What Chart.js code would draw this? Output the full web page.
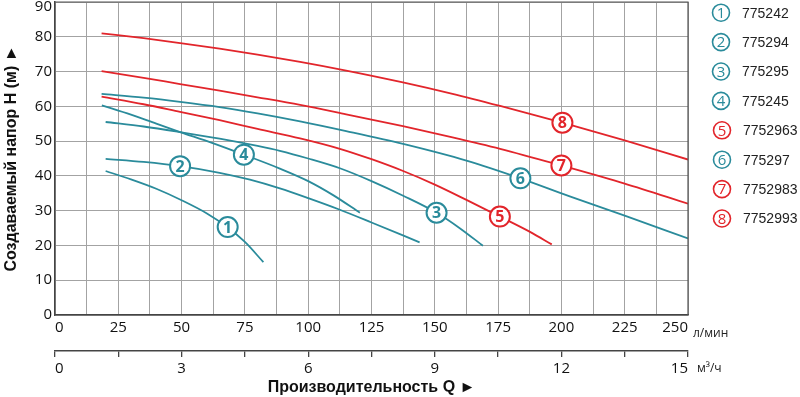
<!DOCTYPE html>
<html>
<head>
<meta charset="utf-8">
<script src="https://cdn.jsdelivr.net/npm/chart.js@4.4.1/dist/chart.umd.min.js"></script>
<style>
  html, body { margin: 0; padding: 0; background: #fff; }
  #wrap { width: 800px; height: 397px; }
</style>
</head>
<body>
<div id="wrap"><canvas id="grafico"></canvas></div>
<script>
// Datos: Q en л/мин, H en м
const pumpNames = ['775242', '775294', '775295', '775245', '7752963', '775297', '7752983', '7752993'];
const curve1 = [[20,41.4],[30,39],[40,36.3],[50,33],[60,29.2],[68,25.3],[75,21],[82.3,15.2]];
const curve2 = [[20,44.9],[35,44],[49.4,42.8],[65,40.9],[77,38.9],[88.8,36.4],[100,33.6],[112,30.4],[125,26.6],[144,20.9]];
const curve3 = [[20,55.5],[35,54.2],[49.4,52.6],[65,50.7],[80,48.6],[88.8,47.2],[100,45],[112.5,42.2],[125,38.5],[137.5,34.3],[150.7,29.4],[160,24.9],[169,19.9]];
const curve4 = [[18.5,60.3],[30,57.6],[40,55],[49.4,52.6],[62,49.5],[74.6,46.1],[88.8,42.1],[100,38.5],[110,34.4],[120.4,29.4]];
const curve5 = [[18.4,62.8],[35,60.6],[49.4,58.4],[65,56],[80,53.5],[96.8,50.8],[112.5,47.8],[125,44.8],[137.5,41.4],[150,37.5],[162.5,33.1],[175.7,28.3],[187.6,23.9],[196.2,20.3]];
const curve6 = [[18.4,63.6],[35,62.5],[49.4,61.3],[65,59.8],[80,58],[96.8,55.7],[115,52.9],[137.5,49.2],[162.5,44.4],[183.8,39.3],[203.3,34.1],[225,28.6],[250,22]];
const curve7 = [[18.4,70.1],[35,68.2],[49.4,66.4],[65,64.5],[80,62.6],[96.8,60.4],[115,57.7],[137.4,54.3],[157,51.1],[175.8,47.8],[200,43],[225,37.8],[250,32]];
const curve8 = [[18.4,81],[35,79.6],[49.4,78.2],[65,76.6],[80,74.9],[96.8,72.8],[115,70.3],[137.4,66.9],[157,63.6],[175.8,60.1],[200.4,55.3],[225,50.2],[250,44.7]];
const curves = [curve1, curve2, curve3, curve4, curve5, curve6, curve7, curve8];

// Posición de los números sobre cada curva
const labelQ = [68.2, 49.4, 150.7, 74.6, 175.7, 183.8, 200, 200.4];
const labelH = [25.3, 42.8, 29.4, 46.1, 28.3, 39.3, 43, 55.3];

// Escalas
const qMax = 250;      // л/мин
const q2Max = 15;      // м³/ч
const hMax = 90;

const TEAL = '#2a8b9b';
const RED = '#e2252b';
const pumpColors = [TEAL, TEAL, TEAL, TEAL, RED, TEAL, RED, RED];

// Círculo con número
function circulo(ctx, x, y, r, color, txt, font, lw) {
  ctx.save();
  ctx.beginPath();
  ctx.arc(x, y, r, 0, Math.PI * 2);
  ctx.fillStyle = '#fff';
  ctx.fill();
  ctx.lineWidth = lw;
  ctx.strokeStyle = color;
  ctx.stroke();
  ctx.fillStyle = color;
  ctx.font = font;
  ctx.textAlign = 'center';
  ctx.textBaseline = 'middle';
  ctx.fillText(txt, x, y + 1);
  ctx.restore();
}

const extrasPlugin = {
  id: 'extras',
  afterDatasetsDraw(chart) {
    const { ctx, chartArea: a, scales } = chart;
    // marco superior y derecho
    ctx.save();
    ctx.strokeStyle = '#555';
    ctx.lineWidth = 1.2;
    ctx.beginPath();
    ctx.moveTo(a.left, a.top);
    ctx.lineTo(a.right, a.top);
    ctx.lineTo(a.right, a.bottom);
    ctx.stroke();
    ctx.restore();

    // etiqueta superior del eje Y (bajada para que no se corte)
    ctx.save();
    ctx.fillStyle = '#111';
    ctx.font = '15px "Open Sans"';
    ctx.textAlign = 'right';
    ctx.textBaseline = 'middle';
    ctx.fillText(String(hMax), scales.y.right - 3, scales.y.getPixelForValue(hMax) + 5);
    ctx.restore();

    // números sobre las curvas
    labelQ.forEach(function(q, i) {
      const px = scales.x.getPixelForValue(q);
      const py = scales.y.getPixelForValue(labelH[i]);
      circulo(ctx, px, py, 10, pumpColors[i], String(i + 1), 'bold 16px "Open Sans"', 2);
    });

    // leyenda a la derecha
    pumpNames.forEach(function(name, i) {
      const cy = 12.7 + i * 29.4;
      const cx = a.right + 33 + (i >= 4 ? 1 : 0);
      circulo(ctx, cx, cy, 8.5, pumpColors[i], String(i + 1), '15px "Open Sans"', 1.6);
      ctx.save();
      ctx.fillStyle = '#222';
      ctx.font = '14px "Liberation Sans"';
      ctx.textBaseline = 'middle';
      ctx.fillText(name, cx + 21, cy + 1);
      ctx.restore();
    });

    // unidades
    ctx.save();
    ctx.fillStyle = '#222';
    ctx.font = '12px "Open Sans"';
    ctx.textBaseline = 'middle';
    ctx.fillText('л/мин', a.right + 5, scales.x.top + 19);
    ctx.fillText('м³/ч', a.right + 9, scales.x2.top + 18);
    ctx.restore();
  }
};

const datasets = curves.map(function(c, i) {
  return {
    label: pumpNames[i],
    data: c.map(p => ({ x: p[0], y: p[1] })),
    borderColor: pumpColors[i],
    borderWidth: 1.8,
    pointRadius: 0,
    fill: false,
    cubicInterpolationMode: 'monotone',
    xAxisID: 'x',
    yAxisID: 'y'
  };
});

const tickFont = { family: '"Open Sans"', size: 15 };
const titleFont = { family: '"Liberation Sans"', size: 16, weight: 'bold' };

new Chart(document.getElementById('grafico').getContext('2d'), {
  type: 'line',
  data: { datasets: datasets },
  options: {
    responsive: true,
    maintainAspectRatio: false,
    animation: false,
    layout: { padding: { left: 0, right: 112, top: 2, bottom: 0 } },
    plugins: { legend: { display: false }, tooltip: { enabled: false } },
    scales: {
      x: {
        type: 'linear',
        position: 'bottom',
        weight: 0,
        min: 0,
        max: qMax,
        ticks: {
          stepSize: 12.5,
          autoSkip: false,
          maxRotation: 0,
          align: 'inner',
          padding: 4,
          color: '#111',
          font: tickFont,
          callback: v => (Math.abs(v % 25) < 1e-6 ? v : '')
        },
        grid: { color: '#a3a3a3', lineWidth: 1, drawTicks: false },
        border: { color: '#444', width: 1.5 },
        afterFit: s => { s.height = 36; s.paddingLeft = 0; s.paddingRight = 0; }
      },
      x2: {
        type: 'linear',
        position: 'bottom',
        weight: 1,
        min: 0,
        max: q2Max,
        ticks: {
          stepSize: 1.5,
          autoSkip: false,
          maxRotation: 0,
          align: 'inner',
          padding: 3,
          color: '#111',
          font: tickFont,
          callback: v => (Math.abs(v % 3) < 1e-6 ? v : '')
        },
        grid: { drawOnChartArea: false, drawTicks: true, tickLength: 6, color: '#444', lineWidth: 1.3 },
        border: { color: '#444', width: 1.5 },
        title: {
          display: true,
          text: 'Производительность Q ►',
          color: '#111',
          font: titleFont,
          padding: { top: 0, bottom: 0 }
        },
        afterFit: s => { s.height = 46; s.paddingLeft = 0; s.paddingRight = 0; }
      },
      y: {
        type: 'linear',
        min: 0,
        max: hMax,
        ticks: {
          stepSize: 10,
          padding: 3,
          color: '#111',
          font: tickFont,
          callback: v => (v === hMax ? '' : v)
        },
        grid: { color: '#a3a3a3', lineWidth: 1, drawTicks: false },
        border: { color: '#444', width: 1.5 },
        title: {
          display: true,
          text: 'Создаваемый напор H (м) ►',
          color: '#111',
          font: titleFont,
          padding: { top: 2, bottom: 0 }
        },
        afterFit: s => { s.width = 55; s.paddingTop = 0; s.paddingBottom = 0; }
      }
    }
  },
  plugins: [extrasPlugin]
});
</script>
</body>
</html>
